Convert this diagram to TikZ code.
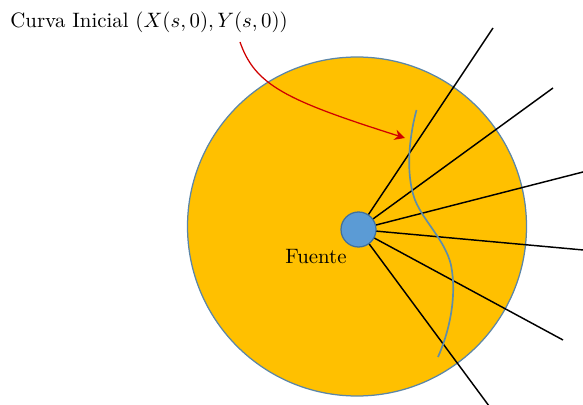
\documentclass[tikz,border=0pt]{standalone}
\usetikzlibrary{arrows.meta}
\definecolor{disk}{HTML}{FFC000}
\definecolor{diskedge}{HTML}{5B86A8}
\definecolor{src}{HTML}{5B9BD5}
\definecolor{srcedge}{HTML}{41719C}
\definecolor{curv}{HTML}{5E8DAA}
\definecolor{arr}{HTML}{D00000}
\tikzset{
  ray/.style={line width=0.7pt, black},
  lbl/.style={inner sep=0pt, font=\normalsize}
}
\begin{document}
\begin{tikzpicture}[x=0.48pt,y=-0.48pt]
\useasboundingbox (0,0) rectangle (583,405);
\clip (0,0) rectangle (583,405);
\node[circle, draw=diskedge, fill=disk, line width=0.6pt, minimum size=339*0.48pt, inner sep=0pt] (disk) at (357,226.5) {};
\coordinate (c) at (358.5,229.5);
\coordinate (e1) at (493,28);
\coordinate (e2) at (553,88);
\coordinate (e3) at (590,170.2);
\coordinate (e4) at (590,250.6);
\coordinate (e5) at (563,340);
\coordinate (e6) at (492,410);
\foreach \e in {e1,e2,e3,e4,e5,e6} \draw[ray] (c) -- (\e);
\node[circle, draw=srcedge, fill=src, line width=0.6pt, minimum size=35*0.48pt, inner sep=0pt] (src) at (c) {};
\draw[curv, line width=0.8pt] (416.5,110) .. controls (411,130) and (404,170) .. (415,200)
  .. controls (424,222) and (445,240) .. (451,265)
  .. controls (457,295) and (450,330) .. (438,357);
\node[lbl, anchor=base west] (title) at (10,28) {Curva Inicial $(X(s,0),Y(s,0))$};
\coordinate (tip) at (405,138);
\draw[arr, line width=0.6pt, -{Stealth[length=5pt,width=5pt]}] (240,42) .. controls (255,85) and (285,100) .. (tip);
\node[lbl] (fuente) at (316,257) {Fuente};
\end{tikzpicture}
\end{document}
